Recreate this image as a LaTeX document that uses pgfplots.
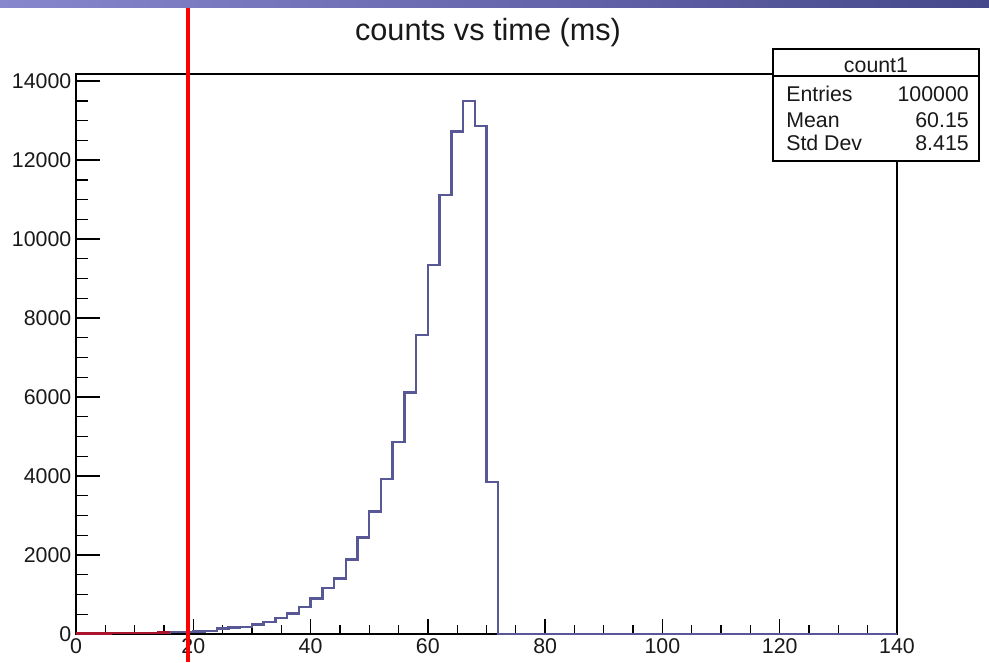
\documentclass[border=0pt]{standalone}
\usepackage{pgfplots}
\pgfplotsset{compat=1.18}
\usepackage{fontspec}
\setmainfont{Liberation Sans}
\definecolor{histline}{RGB}{88,88,150}
\definecolor{lowred}{RGB}{170,20,45}
\definecolor{bannerL}{RGB}{135,135,205}
\definecolor{bannerR}{RGB}{70,72,140}

\begin{document}
\begin{tikzpicture}[x=0.75pt,y=0.75pt]
\useasboundingbox (0,0) rectangle (989,662);
\shade[left color=bannerL,right color=bannerR] (0,654) rectangle (989,662);

\begin{axis}[
    at={(57pt,21pt)}, anchor=south west,
    scale only axis,
    width=615.75pt, height=420pt,
    xmin=0, xmax=140, ymin=0, ymax=14180,
    xtick distance=20, minor x tick num=3,
    ytick distance=2000, minor y tick num=3,
    tick align=inside,
    xtick pos=bottom, ytick pos=left,
    x tick style={/pgfplots/major tick length=11pt, /pgfplots/minor tick length=7pt},
    y tick style={/pgfplots/major tick length=18pt, /pgfplots/minor tick length=9pt},
    major tick length=18pt, minor tick length=9pt,
    tick style={black, line width=1pt},
    axis line style={black, line width=1pt},
    ticklabel style={font=\fontsize{16}{16}\selectfont, text=black!90},
    /pgf/number format/assume math mode=true,
    /pgf/number format/1000 sep={},
    scaled y ticks=false,
    clip=false,
]
% histogram, 2 ms bins from 0 to 140
\addplot[const plot mark left, histline, line width=1.8pt] coordinates {
    (0,10) (2,12) (4,15) (6,18) (8,20) (10,25) (12,30) (14,40) (16,45) (18,50)
    (20,60) (22,75) (24,140) (26,160) (28,170) (30,240) (32,300) (34,400)
    (36,520) (38,680) (40,900) (42,1170) (44,1410) (46,1890) (48,2440)
    (50,3100) (52,3920) (54,4860) (56,6120) (58,7570) (60,9340) (62,11110)
    (64,12720) (66,13500) (68,12870) (70,3850) (72,0) (140,0)
};
% low region drawn in red
\addplot[const plot mark left, lowred, line width=1.8pt] coordinates {
    (0,10) (2,12) (4,15) (6,18) (8,20) (10,25) (12,30) (14,40) (16,40)
};
% cut line
\draw[red, line width=2.4pt] (axis cs:19.1,-709) -- (axis cs:19.1,15850);
\end{axis}

\node[font=\fontsize{23}{23}\selectfont, text=black!90] at (488,629) {counts vs time (ms)};

% stats box
\draw[fill=white, line width=1pt] (773,501) rectangle (979,613);
\draw[line width=1pt] (773,586) -- (979,586);
\begin{scope}[every node/.style={font=\fontsize{16}{16}\selectfont, text=black!90, inner sep=0pt}]
\node[anchor=base] at (876,589.5) {count1};
\node[anchor=base west] at (786,560.3) {Entries};
\node[anchor=base east] at (969,560.3) {100000};
\node[anchor=base west] at (786,534.7) {Mean};
\node[anchor=base east] at (969,534.7) {60.15};
\node[anchor=base west] at (786,512) {Std Dev};
\node[anchor=base east] at (969,512) {8.415};
\end{scope}
\end{tikzpicture}
\end{document}
